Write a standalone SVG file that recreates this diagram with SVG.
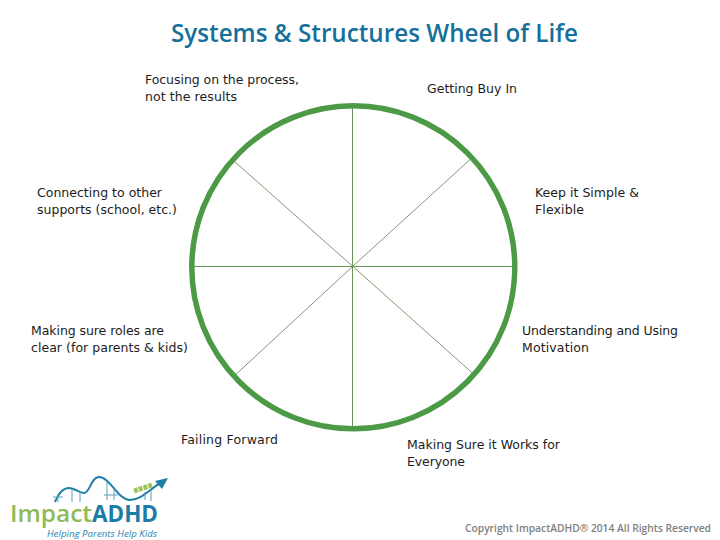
<svg xmlns="http://www.w3.org/2000/svg" width="720" height="540" viewBox="0 0 720 540">
<style>
.l{font-family:"DejaVu Sans","Liberation Sans",sans-serif;font-size:12.5px;fill:#1c1c1c;font-weight:400;lengthAdjust:spacingAndGlyphs}
.s{stroke:#64965c;stroke-width:1;fill:none}
.d{stroke:#7c9c74;stroke-width:1;fill:none}
.t{stroke:#5f9fbd;stroke-width:1;fill:none}
</style>
<rect width="720" height="540" fill="#fff"/>
<text id="title" x="171" y="42" textLength="407" lengthAdjust="spacingAndGlyphs" font-family="'Open Sans','Noto Sans',sans-serif" font-weight="600" font-size="24.5" fill="#15709b">Systems &amp; Structures Wheel of Life</text>
<g id="connectors">
<path class="s" d="M352.5 104V430M192 266.5H514"/>
<path class="d" d="M234.5 161.500L352.700 266.300L472.700 373.300M236 374.300L352.700 266.300L470.700 159"/>
</g>
<g id="wheel"><circle cx="353.300" cy="267.300" r="161.500" fill="none" stroke="#4c9a45" stroke-width="5.500"/></g>
<g id="n1"><text class="l" x="145" y="84" textLength="154">Focusing on the process,</text><text class="l" x="145" y="101" textLength="92">not the results</text></g>
<g id="n2"><text class="l" x="427" y="93" textLength="90">Getting Buy In</text></g>
<g id="n3"><text class="l" x="535" y="197" textLength="104">Keep it Simple &amp;</text><text class="l" x="535" y="214" textLength="49">Flexible</text></g>
<g id="n4"><text class="l" x="522" y="335" textLength="156">Understanding and Using</text><text class="l" x="522" y="352" textLength="67">Motivation</text></g>
<g id="n5"><text class="l" x="407" y="449" textLength="153">Making Sure it Works for</text><text class="l" x="407" y="466" textLength="58">Everyone</text></g>
<g id="n6"><text class="l" x="181" y="444" textLength="97">Failing Forward</text></g>
<g id="n7"><text class="l" x="31" y="335" textLength="133">Making sure roles are</text><text class="l" x="31" y="352" textLength="157">clear (for parents &amp; kids)</text></g>
<g id="n8"><text class="l" x="37" y="197" textLength="125">Connecting to other</text><text class="l" x="37" y="214" textLength="140">supports (school, etc.)</text></g>
<g id="logo">
<path d="M55 502C59 492 64 488 69 488C75 488 79 493 84 493C90 493 91 477 99 477C110 477 118 500 130 500C142 500 150 488 164 481" fill="none" stroke="#1f7fa6" stroke-width="2"/>
<path d="M168 478L155 481L162 489Z" fill="#1f7fa6"/>
<path d="M134 491L152 485" fill="none" stroke="#9cc25a" stroke-width="5" stroke-dasharray="4 1"/>
<path class="t" d="M58 494V502M72 489V502M80 492V502M107 482V500M114 489V500M151 490V501M145 492V500M53 497H63M104 495H118"/>
<text x="10" y="522" font-family="'Open Sans','Noto Sans',sans-serif" font-weight="600" font-size="24" textLength="82" lengthAdjust="spacingAndGlyphs" fill="#8dbb5a">Impact</text>
<text x="92" y="522" font-family="'Open Sans','Noto Sans',sans-serif" font-weight="700" font-size="24" textLength="66" lengthAdjust="spacingAndGlyphs" fill="#1d7ca6">ADHD</text>
<text x="47" y="537" font-family="'Open Sans','Noto Sans',sans-serif" font-style="italic" font-size="9.500" textLength="110" lengthAdjust="spacingAndGlyphs" fill="#2a86b0">Helping Parents Help Kids</text>
</g>
<text id="copyright" x="465" y="532" font-family="'Open Sans','Noto Sans',sans-serif" font-weight="600" font-size="10.500" textLength="246" lengthAdjust="spacingAndGlyphs" fill="#808080">Copyright ImpactADHD® 2014 All Rights Reserved</text>
</svg>
